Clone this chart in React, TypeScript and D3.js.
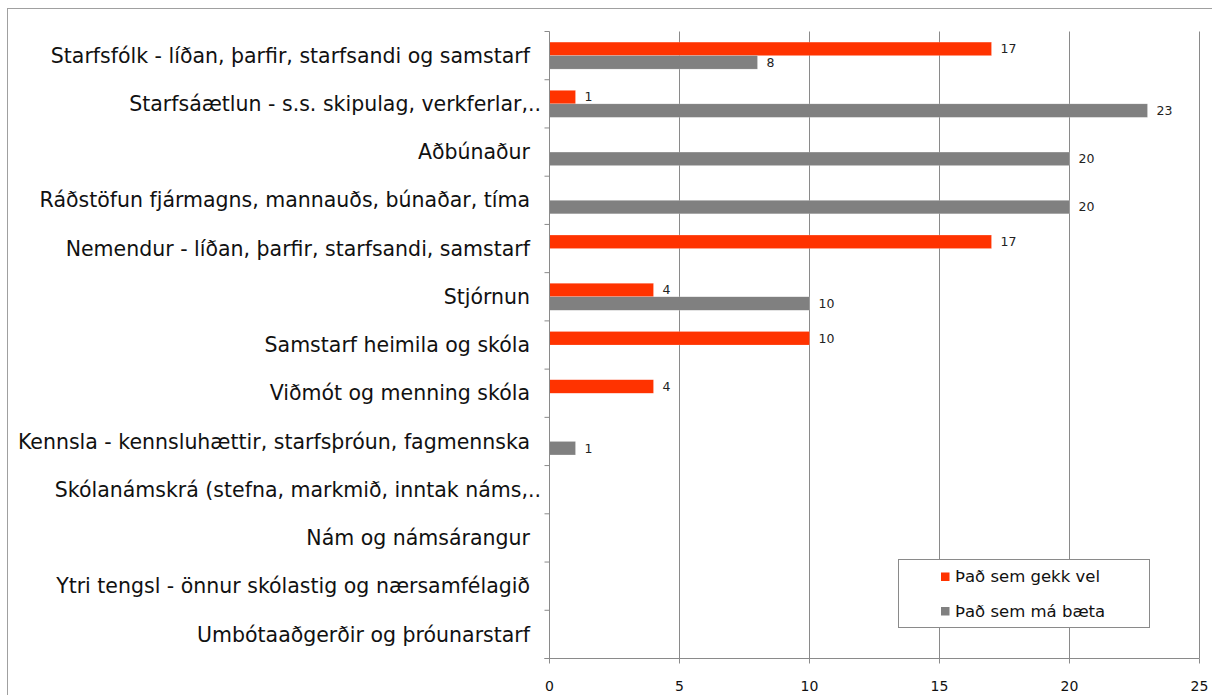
import React from "react";
import * as d3 from "d3";

const categories = [
  "Starfsfólk - líðan, þarfir, starfsandi og samstarf",
  "Starfsáætlun - s.s. skipulag, verkferlar,..",
  "Aðbúnaður",
  "Ráðstöfun fjármagns, mannauðs, búnaðar, tíma",
  "Nemendur - líðan, þarfir, starfsandi, samstarf",
  "Stjórnun",
  "Samstarf heimila og skóla",
  "Viðmót og menning skóla",
  "Kennsla - kennsluhættir, starfsþróun, fagmennska",
  "Skólanámskrá (stefna, markmið, inntak náms,..",
  "Nám og námsárangur",
  "Ytri tengsl - önnur skólastig og nærsamfélagið",
  "Umbótaaðgerðir og þróunarstarf",
];
const wentWell: (number | null)[] = [17, 1, null, null, 17, 4, 10, 4, null, null, null, null, null];
const canImprove: (number | null)[] = [8, 23, 20, 20, null, 10, null, null, 1, null, null, null, null];
const seriesNames = ["Það sem gekk vel", "Það sem má bæta"];
const seriesColors = ["#FF3300", "#808080"];
const xTicks = [0, 5, 10, 15, 20, 25];

const W = 1212;
const H = 695;
const left = 549.5;
const right = 1199.5;
const top = 31.5;
const bottom = 658.5;
const FONT = "'DejaVu Sans', Verdana, sans-serif";

export default function App() {
  const x = d3.scaleLinear().domain([0, 25]).range([left, right]);
  const y = d3.scaleBand<number>().domain(d3.range(categories.length)).range([top, bottom]);
  const bw = y.bandwidth();
  const barH = 13.5;
  const series = [wentWell, canImprove];

  return (
    <svg width={W} height={H} style={{ position: "absolute", left: 0, top: 0, background: "#fff" }}>
      <rect x={0} y={0} width={W} height={H} fill="#fff" />
      <rect x={7.5} y={8.5} width={W + 20} height={H + 20} fill="none" stroke="#a0a0a0" strokeWidth={1} />
      {/* gridlines */}
      {xTicks.map((t) =>
        t === 0 ? null : (
          <line key={"g" + t} x1={x(t)} x2={x(t)} y1={top} y2={bottom} stroke="#8a8a8a" strokeWidth={1} />
        )
      )}
      {/* bars */}
      {series.map((s, si) =>
        s.map((v, i) => {
          if (v == null) return null;
          const cy = (y(i) as number) + bw / 2;
          const y0 = si === 0 ? cy - barH : cy;
          return (
            <g key={`b${si}-${i}`}>
              <rect x={x(0)} y={y0} width={x(v) - x(0)} height={barH} fill={seriesColors[si]} stroke="#fff" strokeOpacity={0.35} strokeWidth={0.5} />
              <text x={x(v) + 9} y={y0 + barH / 2} dy="0.35em" fontSize={12.5} fontFamily={FONT} fill="#222">
                {v}
              </text>
            </g>
          );
        })
      )}
      {/* y axis */}
      <line x1={left} x2={left} y1={top} y2={bottom} stroke="#8a8a8a" />
      {d3.range(categories.length + 1).map((i) => {
        const yy = i < categories.length ? (y(i) as number) : bottom;
        return <line key={"yt" + i} x1={left - 5} x2={left} y1={yy} y2={yy} stroke="#8a8a8a" />;
      })}
      {categories.map((c, i) => (
        <text
          key={"c" + i}
          x={c.endsWith("..") ? 541 : 530}
          y={(y(i) as number) + bw / 2}
          dy="0.35em"
          textAnchor="end"
          fontSize={20.5}
          fontFamily={FONT}
          fill="#111"
        >
          {c}
        </text>
      ))}
      {/* x axis */}
      <line x1={left - 5} x2={right} y1={bottom} y2={bottom} stroke="#8a8a8a" />
      {xTicks.map((t) => (
        <g key={"xt" + t}>
          <line x1={x(t)} x2={x(t)} y1={bottom} y2={bottom + 5} stroke="#8a8a8a" />
          <text x={x(t)} y={686} dy="0.35em" textAnchor="middle" fontSize={14} fontFamily={FONT} fill="#111">
            {t}
          </text>
        </g>
      ))}
      {/* legend */}
      <rect x={898.5} y={559.5} width={251} height={68} fill="#fff" stroke="#8a8a8a" />
      {seriesNames.map((n, i) => (
        <g key={"l" + i}>
          <rect x={941} y={572.5 + i * 34.5} width={8.5} height={8.5} fill={seriesColors[i]} />
          <text x={955} y={582 + i * 34.5} fontSize={16.5} fontFamily={FONT} fill="#111">
            {n}
          </text>
        </g>
      ))}
    </svg>
  );
}
